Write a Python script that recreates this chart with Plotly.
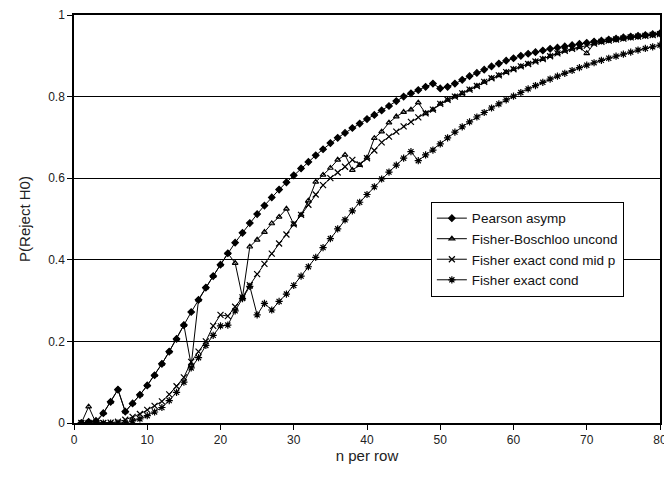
import plotly.graph_objects as go

n_per_row = list(range(1, 81))

pearson_asymp = [
    0.000, 0.003, 0.005, 0.024, 0.052, 0.082, 0.028, 0.048, 0.069, 0.092,
    0.117, 0.145, 0.175, 0.206, 0.240, 0.272, 0.302, 0.332, 0.360, 0.388,
    0.416, 0.442, 0.466, 0.490, 0.512, 0.533, 0.553, 0.572, 0.590, 0.607,
    0.624, 0.640, 0.656, 0.671, 0.686, 0.699, 0.711, 0.723, 0.734, 0.745,
    0.755, 0.766, 0.777, 0.789, 0.800, 0.808, 0.816, 0.824, 0.832, 0.820,
    0.824, 0.832, 0.841, 0.850, 0.858, 0.866, 0.874, 0.881, 0.888, 0.894,
    0.900, 0.905, 0.909, 0.913, 0.917, 0.920, 0.923, 0.926, 0.929, 0.932,
    0.935, 0.937, 0.940, 0.942, 0.945, 0.947, 0.949, 0.951, 0.953, 0.955,
]

fisher_boschloo = [
    0.000, 0.040, 0.000, 0.024, 0.052, 0.082, 0.028, 0.048, 0.069, 0.092,
    0.117, 0.145, 0.175, 0.206, 0.240, 0.142, 0.302, 0.332, 0.360, 0.388,
    0.416, 0.392, 0.308, 0.432, 0.449, 0.468, 0.489, 0.505, 0.525, 0.487,
    0.510, 0.545, 0.591, 0.608, 0.625, 0.645, 0.657, 0.620, 0.632, 0.650,
    0.698, 0.714, 0.736, 0.751, 0.762, 0.768, 0.785, 0.759, 0.768, 0.782,
    0.792, 0.800, 0.808, 0.817, 0.826, 0.836, 0.845, 0.852, 0.860, 0.867,
    0.874, 0.880, 0.886, 0.892, 0.899, 0.906, 0.912, 0.917, 0.921, 0.906,
    0.930, 0.934, 0.937, 0.940, 0.942, 0.945, 0.947, 0.949, 0.951, 0.953,
]

fisher_mid_p = [
    0.000, 0.000, 0.000, 0.000, 0.001, 0.003, 0.008, 0.015, 0.022, 0.032,
    0.042, 0.053, 0.070, 0.090, 0.112, 0.150, 0.175, 0.200, 0.238, 0.265,
    0.262, 0.285, 0.308, 0.338, 0.365, 0.390, 0.415, 0.440, 0.462, 0.487,
    0.510, 0.535, 0.560, 0.583, 0.600, 0.614, 0.628, 0.645, 0.634, 0.649,
    0.668, 0.688, 0.702, 0.714, 0.727, 0.738, 0.749, 0.759, 0.768, 0.782,
    0.792, 0.800, 0.808, 0.817, 0.826, 0.836, 0.845, 0.852, 0.860, 0.867,
    0.874, 0.880, 0.886, 0.892, 0.899, 0.906, 0.912, 0.917, 0.921, 0.925,
    0.930, 0.934, 0.937, 0.940, 0.942, 0.945, 0.947, 0.949, 0.951, 0.953,
]

fisher_exact = [
    0.000, 0.000, 0.000, 0.000, 0.000, 0.000, 0.000, 0.005, 0.010, 0.018,
    0.027, 0.038, 0.055, 0.075, 0.100, 0.135, 0.160, 0.190, 0.215, 0.238,
    0.240, 0.275, 0.305, 0.335, 0.265, 0.293, 0.277, 0.298, 0.316, 0.337,
    0.360, 0.383, 0.406, 0.430, 0.452, 0.476, 0.498, 0.520, 0.541, 0.560,
    0.579, 0.598, 0.615, 0.632, 0.649, 0.665, 0.643, 0.657, 0.669, 0.684,
    0.699, 0.713, 0.726, 0.738, 0.750, 0.761, 0.772, 0.782, 0.792, 0.801,
    0.810, 0.819, 0.827, 0.835, 0.843, 0.850, 0.857, 0.864, 0.871, 0.877,
    0.883, 0.889, 0.894, 0.899, 0.904, 0.909, 0.914, 0.918, 0.922, 0.926,
]

series_names = ["Pearson asymp", "Fisher-Boschloo uncond",
                "Fisher exact cond mid p", "Fisher exact cond"]
series_values = [pearson_asymp, fisher_boschloo, fisher_mid_p, fisher_exact]
symbols = ["diamond", "triangle-up-open", "x-thin-open", "asterisk-open"]
sizes = [5, 5, 6, 6]

fig = go.Figure()
for name, vals, sym, sz in zip(series_names, series_values, symbols, sizes):
    fig.add_trace(go.Scatter(
        x=n_per_row, y=vals, name=name, mode="lines+markers",
        line=dict(color="black", width=1),
        marker=dict(symbol=sym, size=sz, color="black",
                    line=dict(color="black", width=1.2)),
    ))

axis_font = dict(family="Liberation Sans, Arial, sans-serif", size=12, color="#222")
fig.update_layout(
    width=664, height=478,
    margin=dict(l=74, r=2, t=15, b=55),
    paper_bgcolor="white", plot_bgcolor="white",
    font=axis_font,
    showlegend=True,
    legend=dict(x=0.609, y=0.542, xanchor="left", yanchor="top",
                bgcolor="white", bordercolor="black", borderwidth=1,
                font=dict(family="Liberation Sans, Arial, sans-serif", size=13.5, color="#111"),
                itemwidth=30, tracegroupgap=0),
    xaxis=dict(range=[0, 80], tickmode="array", tickvals=[0, 10, 20, 30, 40, 50, 60, 70, 80],
               showgrid=False, zeroline=False, showline=True, linecolor="black", linewidth=1.5,
               mirror=True, ticks="outside", ticklen=5, tickcolor="black",
               ticklabeloverflow="allow", automargin=False,
               title=dict(text="n per row", font=dict(size=15, color="#222"), standoff=2)),
    yaxis=dict(range=[0, 1], tickmode="array", tickvals=[0, 0.2, 0.4, 0.6, 0.8, 1],
               ticktext=["0", "0.2", "0.4", "0.6", "0.8", "1"],
               showgrid=True, gridcolor="black", gridwidth=1, zeroline=False,
               showline=True, linecolor="black", linewidth=1.5, mirror=True,
               ticks="outside", ticklen=5, tickcolor="black",
               title=dict(text="P(Reject H0)", font=dict(size=15, color="#222"), standoff=14)),
)

fig.write_html(
    "out.html",
    config={"displayModeBar": False},
    post_script="document.body.style.margin='0px';document.documentElement.style.overflow='hidden';",
)
